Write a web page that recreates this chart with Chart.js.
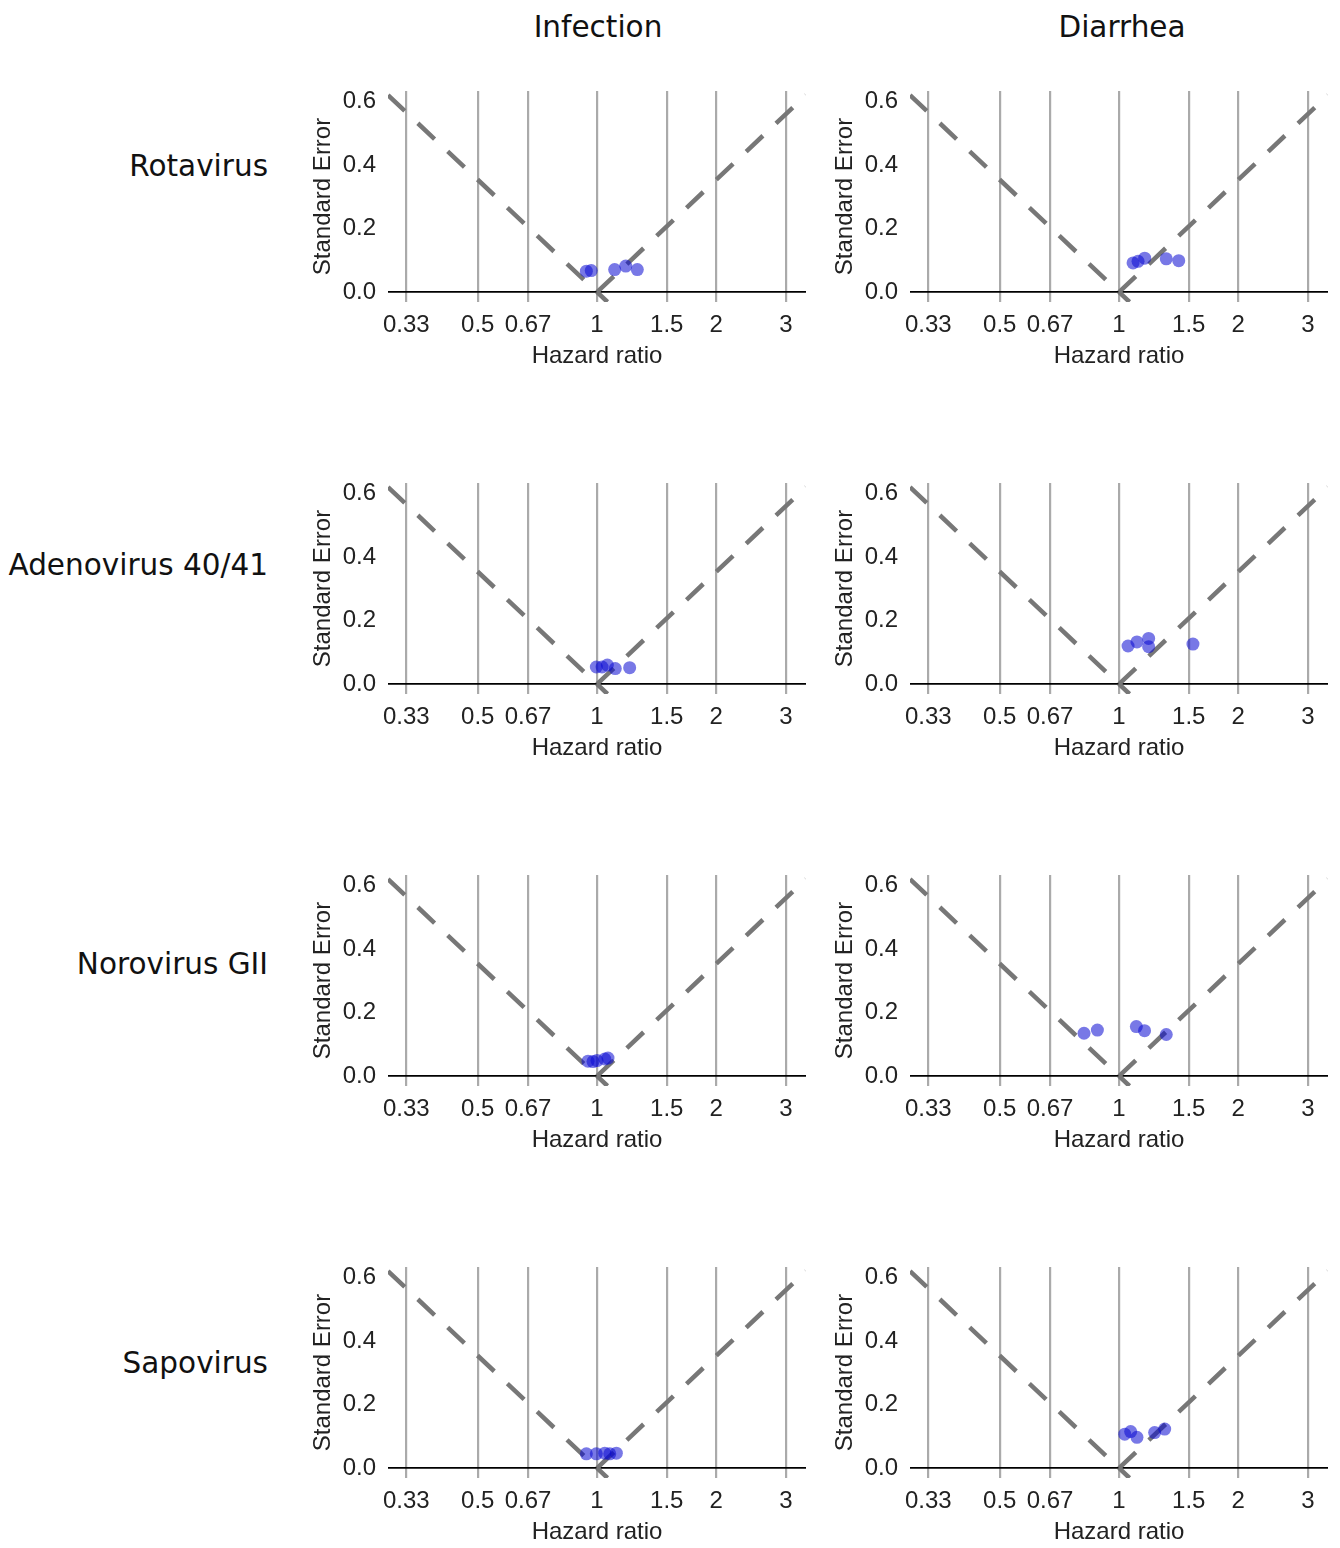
<!DOCTYPE html>
<html>
<head>
<meta charset="utf-8">
<script src="https://cdn.jsdelivr.net/npm/chart.js@4.4.0/dist/chart.umd.min.js"></script>
<style>
  body { margin: 0; background: #fff; width: 1340px; height: 1548px; position: relative; overflow: hidden; }
  .panel { position: absolute; width: 516px; height: 316px; }
  .coltitle, .rowtitle { position: absolute; font-family: "DejaVu Sans"; font-size: 29.5px; color: #111; white-space: nowrap; }
  .coltitle { transform: translate(-50%, -50%); }
  .rowtitle { transform: translate(-100%, -50%); }
</style>
</head>
<body>
<div class="coltitle" style="left:598px;top:27px">Infection</div>
<div class="coltitle" style="left:1122px;top:27px">Diarrhea</div>
<div class="rowtitle" style="left:268px;top:166px">Rotavirus</div>
<div class="rowtitle" style="left:268px;top:565px">Adenovirus 40/41</div>
<div class="rowtitle" style="left:268px;top:964px">Norovirus GII</div>
<div class="rowtitle" style="left:268px;top:1363px">Sapovirus</div>

<script>
var hazardTicks = [0.33, 0.5, 0.67, 1, 1.5, 2, 3];
var seTicks = [0, 0.2, 0.4, 0.6];

// funnel limits (dashed lines)
var funnelLeftX = [0.2968, 1.063];
var funnelLeftY = [0.62, -0.031];
var funnelRightX = [1, 3.369];
var funnelRightY = [0, 0.62];

// hazard ratios / standard errors, one pair per panel
var rotaInfHR = [0.940, 0.967, 1.108, 1.182, 1.264];
var rotaInfSE = [0.066, 0.068, 0.071, 0.082, 0.071];
var rotaDiaHR = [1.085, 1.117, 1.161, 1.316, 1.415];
var rotaDiaSE = [0.092, 0.097, 0.107, 0.105, 0.099];

var adenoInfHR = [0.996, 1.030, 1.062, 1.112, 1.209];
var adenoInfSE = [0.054, 0.054, 0.060, 0.049, 0.052];
var adenoDiaHR = [1.054, 1.110, 1.188, 1.188, 1.537];
var adenoDiaSE = [0.120, 0.133, 0.144, 0.118, 0.126];

var noroInfHR = [0.949, 0.977, 1.000, 1.046, 1.066];
var noroInfSE = [0.047, 0.046, 0.049, 0.054, 0.057];
var noroDiaHR = [0.816, 0.882, 1.106, 1.160, 1.316];
var noroDiaSE = [0.135, 0.145, 0.156, 0.143, 0.131];

var sapoInfHR = [0.940, 0.996, 1.046, 1.077, 1.119];
var sapoInfSE = [0.045, 0.045, 0.047, 0.045, 0.047];
var sapoDiaHR = [1.034, 1.070, 1.110, 1.230, 1.304];
var sapoDiaSE = [0.107, 0.115, 0.097, 0.112, 0.123];

var panels = [
  [rotaInfHR, rotaInfSE, rotaDiaHR, rotaDiaSE],
  [adenoInfHR, adenoInfSE, adenoDiaHR, adenoDiaSE],
  [noroInfHR, noroInfSE, noroDiaHR, noroDiaSE],
  [sapoInfHR, sapoInfSE, sapoDiaHR, sapoDiaSE]
];

var colLeft = [300, 822];
var rowTop = [61, 453, 845, 1237];

function pairs(xs, ys) {
  return xs.map(function (x, i) { return {x: x, y: ys[i]}; });
}

var tickFont = {family: 'Liberation Sans', size: 24};
var titleFont = {family: 'Liberation Sans', size: 24};

function makePanel(r, c, hr, se) {
  var cv = document.createElement('canvas');
  var div = document.createElement('div');
  div.className = 'panel';
  div.style.left = colLeft[c] + 'px';
  div.style.top = rowTop[r] + 'px';
  div.appendChild(cv);
  document.body.appendChild(div);

  new Chart(cv.getContext('2d'), {
    type: 'scatter',
    data: {
      datasets: [{
        data: pairs(hr, se),
        backgroundColor: 'rgba(10,10,210,0.55)',
        borderWidth: 0,
        pointRadius: 6.5
      }, {
        type: 'line',
        data: pairs(funnelLeftX, funnelLeftY),
        borderColor: '#777',
        borderWidth: 4.5,
        borderDash: [23, 18],
        pointRadius: 0,
        fill: false
      }, {
        type: 'line',
        data: pairs(funnelRightX, funnelRightY),
        borderColor: '#777',
        borderWidth: 4.5,
        borderDash: [23, 18],
        pointRadius: 0,
        fill: false
      }]
    },
    options: {
      responsive: true,
      maintainAspectRatio: false,
      animation: false,
      layout: {padding: {top: 30, right: 10, bottom: 0, left: 0}},
      plugins: {legend: {display: false}, tooltip: {enabled: false}},
      scales: {
        x: {
          type: 'logarithmic',
          min: funnelLeftX[0],
          max: funnelRightX[1],
          afterBuildTicks: function (scale) {
            scale.ticks = hazardTicks.map(function (v) { return {value: v}; });
          },
          afterFit: function (scale) { scale.height = 75; },
          grid: {color: '#aaa', lineWidth: 2.2, drawTicks: false},
          border: {display: false},
          ticks: {
            font: tickFont, color: '#222', padding: 9, autoSkip: false, maxRotation: 0,
            callback: function (v) { return String(v); }
          },
          title: {display: true, text: 'Hazard ratio', font: titleFont, color: '#222', padding: {top: 0, bottom: 6}}
        },
        y: {
          min: -0.031,
          max: 0.633,
          afterBuildTicks: function (scale) {
            scale.ticks = seTicks.map(function (v) { return {value: v}; });
          },
          afterFit: function (scale) { scale.width = 88; },
          grid: {
            drawTicks: false,
            lineWidth: 1.8,
            color: function (ctx) { return ctx.tick && ctx.tick.value === 0 ? '#000' : 'rgba(0,0,0,0)'; }
          },
          border: {display: false},
          ticks: {
            font: tickFont, color: '#222', padding: 12,
            callback: function (v) { return v.toFixed(1); }
          },
          title: {display: true, text: 'Standard Error', font: titleFont, color: '#222', padding: {top: 9, bottom: 0}}
        }
      }
    }
  });
}

for (var r = 0; r < 4; r++) {
  makePanel(r, 0, panels[r][0], panels[r][1]);
  makePanel(r, 1, panels[r][2], panels[r][3]);
}
</script>
</body>
</html>
